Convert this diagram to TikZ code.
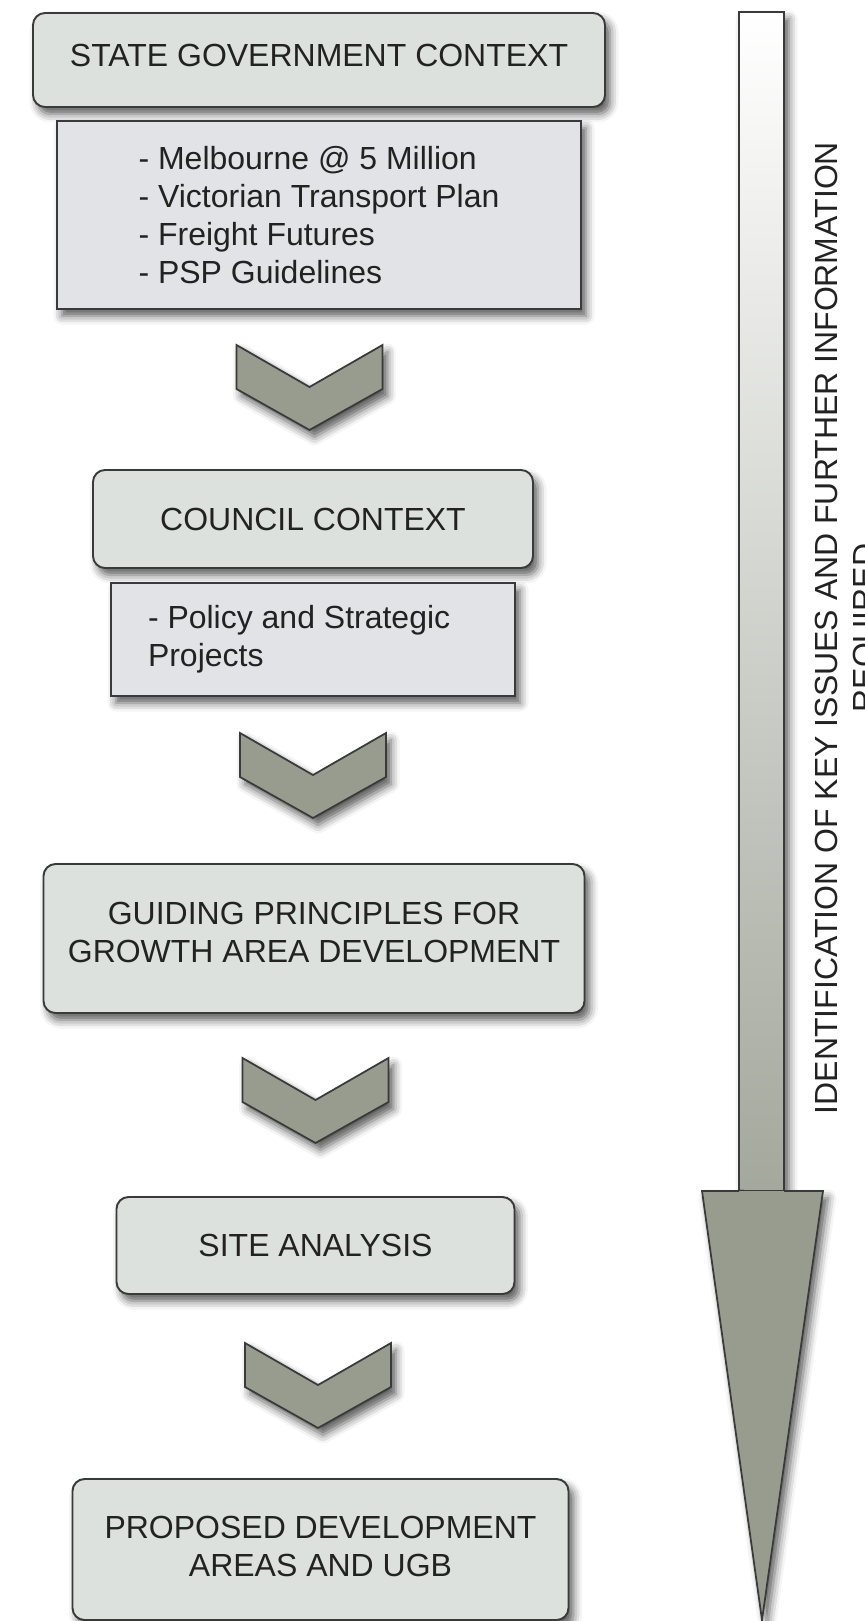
\documentclass[tikz,border=0pt]{standalone}
\usepackage{fontspec}
\setmainfont{Liberation Sans}
\usepackage{tikz}
\usetikzlibrary{positioning,shadows.blur}
\definecolor{stagegrey}{RGB}{220,225,221}
\definecolor{detailgrey}{RGB}{226,227,230}
\definecolor{sagegrey}{RGB}{151,156,143}
\definecolor{edgegrey}{RGB}{58,58,58}
\definecolor{inkgrey}{RGB}{34,34,34}

\begin{document}
\begin{tikzpicture}[
    node distance=1cm,
    every node/.style={align=center, text=inkgrey, outer sep=0pt, font=\fontsize{18.2pt}{21.6pt}\selectfont},
    softshadow/.style={blur shadow={shadow xshift=0.1cm, shadow yshift=-0.14cm, shadow blur radius=0.17cm, shadow opacity=65}},
    stage/.style={rectangle, rounded corners=0.24cm, draw=edgegrey, line width=1.1pt, fill=stagegrey, softshadow},
    detail/.style={rectangle, draw=edgegrey, line width=1.1pt, fill=detailgrey, softshadow},
    chevron/.pic={
        \draw[draw=edgegrey, line width=1pt, fill=sagegrey, softshadow]
            (-1.46,0) -- (0,-0.84) -- (1.46,0) -- (1.46,-0.88) -- (0,-1.7) -- (-1.46,-0.88) -- cycle;
    }
]

\useasboundingbox (0,0) rectangle (17.3,-32.42);
\clip (0,0) rectangle (17.3,-32.42);

% Process arrow on the right
\shade[top color=white, bottom color=sagegrey!88!white, draw=edgegrey, line width=0.9pt, softshadow]
    (14.78,-0.24) rectangle (15.68,-23.82);
\draw[fill=sagegrey, draw=edgegrey, line width=1pt, softshadow]
    (14.78,-23.82) -- (14.04,-23.82) -- (15.24,-32.4) -- (16.46,-23.82) -- (15.68,-23.82);
\node[rotate=90] (issues) at (16.96,-12.56) {IDENTIFICATION OF KEY ISSUES AND FURTHER INFORMATION\\REQUIRED};

% State context
\node[stage, minimum width=11.44cm, minimum height=1.88cm, text depth=0.2cm] (state) at (6.38,-1.2) {STATE GOVERNMENT CONTEXT};
\node[detail, minimum width=10.48cm, minimum height=3.76cm, align=left, below=0.28cm of state] (stateitems) {- Melbourne @ 5 Million\\- Victorian Transport Plan\\- Freight Futures\\- PSP Guidelines};
\coordinate[below=0.72cm of stateitems, xshift=-0.19cm] (stepA);
\pic at (stepA) {chevron};

% Council context
\node[stage, minimum width=8.8cm, minimum height=1.96cm, below=2.5cm of stepA, xshift=0.07cm] (council) {COUNCIL CONTEXT};
\node[detail, minimum width=8.08cm, minimum height=2.26cm, below=0.3cm of council] (councilitems) {\begin{minipage}{6.6cm}\raggedright - Policy and Strategic\\Projects\end{minipage}};
\coordinate[below=0.74cm of councilitems] (stepB);
\pic at (stepB) {chevron};

% Principles and analysis
\node[stage, minimum width=10.82cm, minimum height=2.98cm, text depth=0.26cm, below=2.62cm of stepB, xshift=0.02cm] (guiding) {GUIDING PRINCIPLES FOR\\GROWTH AREA DEVELOPMENT};
\coordinate[below=0.9cm of guiding, xshift=0.03cm] (stepC);
\pic at (stepC) {chevron};

\node[stage, minimum width=7.96cm, minimum height=1.94cm, below=2.78cm of stepC] (site) {SITE ANALYSIS};
\coordinate[below=0.98cm of site, xshift=0.05cm] (stepD);
\pic at (stepD) {chevron};

% Outcome
\node[stage, minimum width=9.92cm, minimum height=2.82cm, text height=1.1cm, below=2.72cm of stepD, xshift=0.05cm] (proposed) {PROPOSED DEVELOPMENT\\AREAS AND UGB};

\end{tikzpicture}
\end{document}
